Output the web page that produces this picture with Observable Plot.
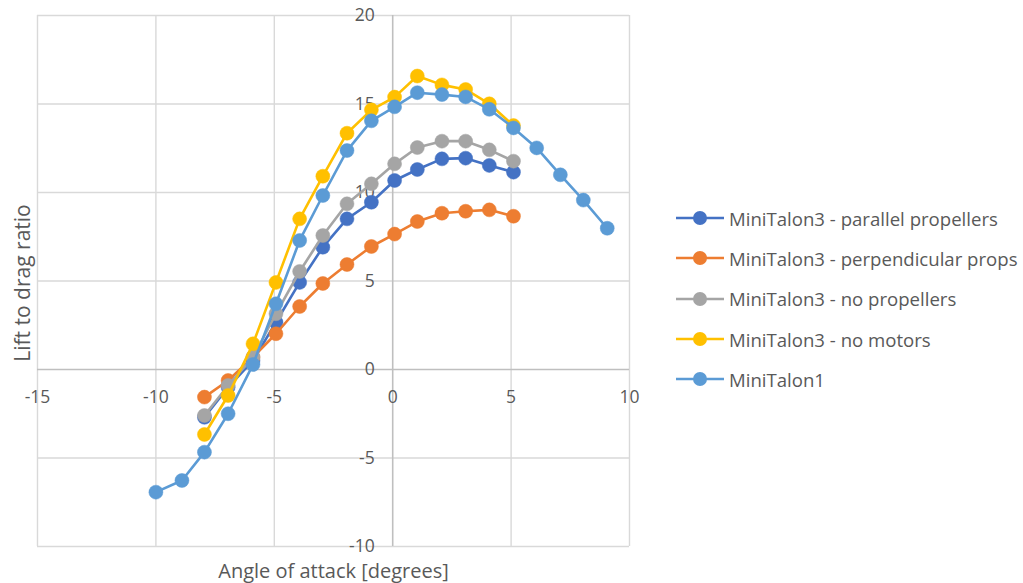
<!DOCTYPE html>
<html>
<head>
<meta charset="utf-8">
<script src="https://cdn.jsdelivr.net/npm/d3@7"></script>
<script src="https://cdn.jsdelivr.net/npm/@observablehq/plot@0.6"></script>
<style>
  html, body { margin: 0; padding: 0; background: #fff; }
  #wrap { position: relative; width: 1023px; height: 583px; font-family: "Open Sans", Lato, sans-serif; }
  #legend { position: absolute; left: 676px; top: 198px; }
  .item { display: flex; align-items: center; height: 40.3px; font-size: 18.6px; color: #595959; white-space: nowrap; }
  .item svg { margin-right: 5px; }
</style>
</head>
<body>
<div id="wrap"></div>
<script>
// ---- data ----
const anglesT1 = [-10, -8.9, -7.95, -6.95, -5.9, -4.93, -3.93, -2.95, -1.93, -0.9, 0.08, 1.04, 2.08, 3.08, 4.08, 5.1, 6.08, 7.08, 8.05, 9.06];
const anglesT3 = [-7.95, -6.95, -5.9, -4.93, -3.93, -2.95, -1.93, -0.9, 0.08, 1.04, 2.08, 3.08, 4.08, 5.1];

const parallelProps      = [-2.7, -1.0, 0.5, 2.67, 4.92, 6.91, 8.51, 9.45, 10.68, 11.3, 11.9, 11.94, 11.53, 11.15];
const perpendicularProps = [-1.56, -0.62, 0.7, 2.02, 3.56, 4.86, 5.93, 6.95, 7.65, 8.36, 8.83, 8.94, 9.02, 8.66];
const noPropellers       = [-2.6, -0.9, 0.7, 3.15, 5.54, 7.57, 9.36, 10.49, 11.62, 12.54, 12.9, 12.9, 12.41, 11.77];
const noMotors           = [-3.67, -1.47, 1.45, 4.92, 8.51, 10.92, 13.35, 14.67, 15.39, 16.58, 16.08, 15.82, 15.01, 13.78];
const miniTalon1         = [-6.93, -6.27, -4.67, -2.5, 0.28, 3.71, 7.29, 9.83, 12.37, 14.05, 14.84, 15.64, 15.53, 15.4, 14.7, 13.65, 12.52, 11.0, 9.57, 7.98];

const seriesNames  = ["MiniTalon3 - parallel propellers", "MiniTalon3 - perpendicular props", "MiniTalon3 - no propellers", "MiniTalon3 - no motors", "MiniTalon1"];
const seriesColors = ["#4472C4", "#ED7D31", "#A5A5A5", "#FFC000", "#5B9BD5"];
const seriesValues = [parallelProps, perpendicularProps, noPropellers, noMotors, miniTalon1];
const seriesAngles = [anglesT3, anglesT3, anglesT3, anglesT3, anglesT1];

const xTicks = [-15, -10, -5, 0, 5, 10];
const yTicks = [-10, -5, 0, 5, 10, 15, 20];
const xTitle = "Angle of attack [degrees]";
const yTitle = "Lift to drag ratio";

// ---- build ----
const series = seriesNames.map((name, i) => ({
  name, color: seriesColors[i],
  rows: seriesValues[i].map((v, j) => ({x: seriesAngles[i][j], y: v}))
}));

const fontFamily = '"Open Sans", Lato, sans-serif';
const seriesMarks = series.flatMap(s => [
  Plot.line(s.rows, {x: "x", y: "y", stroke: s.color, strokeWidth: 2.6}),
  Plot.dot(s.rows, {x: "x", y: "y", r: 7, fill: s.color, stroke: s.color, strokeWidth: 0.5})
]);

const chart = Plot.plot({
  width: 1023,
  height: 583,
  marginLeft: 37,
  marginRight: 394,
  marginTop: 15,
  marginBottom: 37,
  style: {fontFamily, background: "white", overflow: "visible"},
  x: {domain: [-15, 10], axis: null},
  y: {domain: [-10, 20], axis: null},
  marks: [
    Plot.ruleX(xTicks.filter(d => d !== 0), {stroke: "#d9d9d9", strokeWidth: 1.4}),
    Plot.ruleY(yTicks.filter(d => d !== 0), {stroke: "#d9d9d9", strokeWidth: 1.4}),
    Plot.ruleX([0], {stroke: "#bfbfbf", strokeWidth: 1.6}),
    Plot.ruleY([0], {stroke: "#bfbfbf", strokeWidth: 1.6}),
    Plot.text(xTicks, {x: d => d, y: 0, text: d => String(d), dy: 28, fontSize: 17.5, fill: "#595959", textAnchor: "middle"}),
    Plot.text(yTicks, {x: 0, y: d => d, text: d => String(d), dx: -18, fontSize: 17.5, fill: "#595959", textAnchor: "end"}),
    ...seriesMarks,
    Plot.text([xTitle], {frameAnchor: "bottom", dy: 31, fontSize: 20, fill: "#595959"}),
    Plot.text([yTitle], {frameAnchor: "left", textAnchor: "middle", rotate: -90, dx: -14, dy: 2, fontSize: 21, fill: "#595959"})
  ]
});

const wrap = document.getElementById("wrap");
wrap.appendChild(chart);

// legend
const legend = document.createElement("div");
legend.id = "legend";
for (const s of series) {
  const item = document.createElement("div");
  item.className = "item";
  item.innerHTML = `<svg width="48" height="16"><line x1="0" y1="8" x2="48" y2="8" stroke="${s.color}" stroke-width="2.6"/><circle cx="24" cy="8" r="7" fill="${s.color}"/></svg><span>${s.name}</span>`;
  legend.appendChild(item);
}
wrap.appendChild(legend);
</script>
</body>
</html>
